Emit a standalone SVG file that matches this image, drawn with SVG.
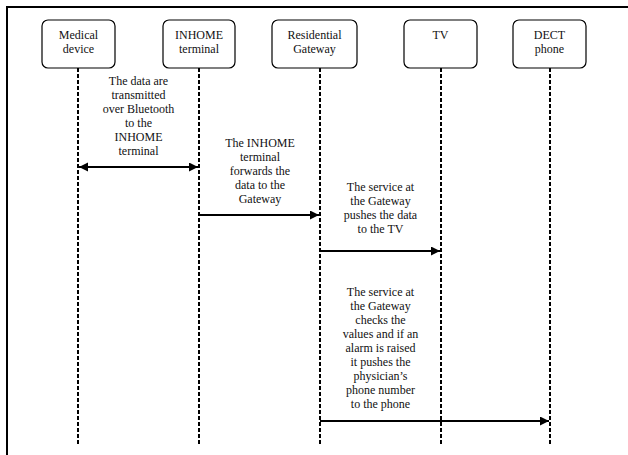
<svg xmlns="http://www.w3.org/2000/svg" width="628" height="455" viewBox="0 0 628 455">
<defs>
<style>
.box{fill:#fff;stroke:#000;stroke-width:1.2}
.life{stroke:#000;stroke-width:2;stroke-dasharray:4 2;fill:none}
.msg{stroke:#000;stroke-width:2.2;fill:none}
</style>
<marker id="ah" markerUnits="userSpaceOnUse" markerWidth="10" markerHeight="10" refX="9" refY="4.5" orient="auto-start-reverse">
<path d="M0,0 L9,4.5 L0,9 z" fill="#000"/>
</marker>
</defs>
<rect width="628" height="455" fill="#fff"/>
<path d="M7,455 V7 H628" fill="none" stroke="#000" stroke-width="2"/>
<g id="lifelines">
<line class="life" x1="78" y1="68" x2="78" y2="446"/>
<line class="life" x1="199" y1="68" x2="199" y2="446"/>
<line class="life" x1="320" y1="68" x2="320" y2="446"/>
<line class="life" x1="441" y1="68" x2="441" y2="446"/>
<line class="life" x1="550" y1="68" x2="550" y2="446"/>
</g>
<g font-family="Liberation Serif" font-size="12" fill="#111" text-anchor="middle">
<g id="node-medical">
<rect class="box" x="42" y="20" width="73" height="48" rx="6"/>
<text x="78.5" y="39">Medical</text>
<text x="78.5" y="53">device</text>
</g>
<g id="node-inhome">
<rect class="box" x="163" y="20" width="72" height="48" rx="6"/>
<text x="199" y="39">INHOME</text>
<text x="199" y="53">terminal</text>
</g>
<g id="node-gateway">
<rect class="box" x="272" y="20" width="85" height="48" rx="6"/>
<text x="314.5" y="39">Residential</text>
<text x="314.5" y="53">Gateway</text>
</g>
<g id="node-tv">
<rect class="box" x="404" y="20" width="73" height="48" rx="6"/>
<text x="440.5" y="39">TV</text>
</g>
<g id="node-dect">
<rect class="box" x="513" y="20" width="73" height="48" rx="6"/>
<text x="549.5" y="39">DECT</text>
<text x="549.5" y="53">phone</text>
</g>
<g id="labels">
<text x="138.5" y="85">The data are</text>
<text x="138.5" y="99">transmitted</text>
<text x="138.5" y="113">over Bluetooth</text>
<text x="138.5" y="127">to the</text>
<text x="138.5" y="141">INHOME</text>
<text x="138.5" y="155">terminal</text>
<text x="260" y="147">The INHOME</text>
<text x="260" y="161">terminal</text>
<text x="260" y="175">forwards the</text>
<text x="260" y="189">data to the</text>
<text x="260" y="203">Gateway</text>
<text x="380.5" y="191">The service at</text>
<text x="380.5" y="205">the Gateway</text>
<text x="380.5" y="219">pushes the data</text>
<text x="380.5" y="233">to the TV</text>
<text x="380.5" y="296">The service at</text>
<text x="380.5" y="310">the Gateway</text>
<text x="380.5" y="324">checks the</text>
<text x="380.5" y="338">values and if an</text>
<text x="380.5" y="352">alarm is raised</text>
<text x="380.5" y="366">it pushes the</text>
<text x="380.5" y="380">physician’s</text>
<text x="380.5" y="394">phone number</text>
<text x="380.5" y="408">to the phone</text>
</g>
</g>
<g id="connectors">
<line class="msg" x1="79" y1="167" x2="198" y2="167" marker-start="url(#ah)" marker-end="url(#ah)"/>
<line class="msg" x1="199" y1="215" x2="319" y2="215" marker-end="url(#ah)"/>
<line class="msg" x1="320" y1="251" x2="440" y2="251" marker-end="url(#ah)"/>
<line class="msg" x1="320" y1="421" x2="549" y2="421" marker-end="url(#ah)"/>
</g>
</svg>
